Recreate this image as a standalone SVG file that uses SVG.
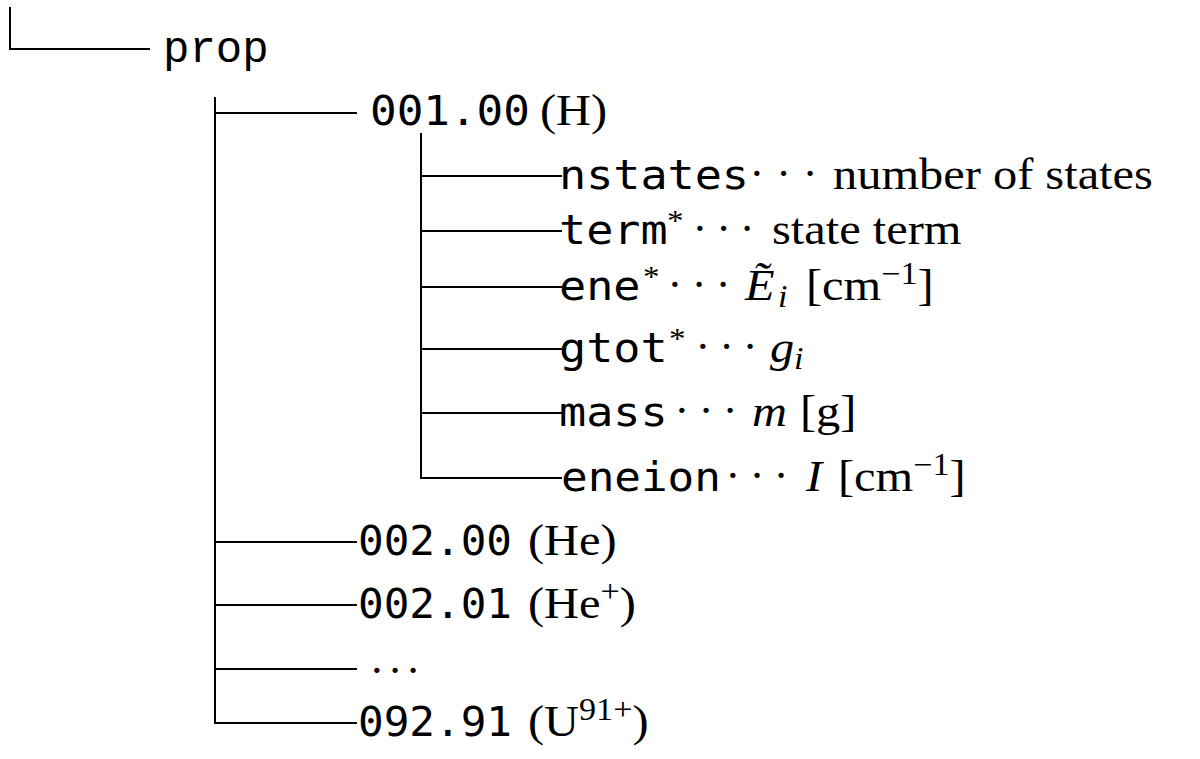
<svg xmlns="http://www.w3.org/2000/svg" width="1200" height="759" viewBox="0 0 1200 759">
<style>
.bg{fill:#fff}
.c{fill:none;stroke:#000;stroke-width:2}
.tt{font-family:"DejaVu Sans Mono",monospace;font-size:41px;fill:#000}
.cm{font-family:"Liberation Mono",monospace;font-size:44px;fill:#000}
.rm{font-family:"Liberation Serif",serif;font-size:44px;fill:#000}
.it{font-family:"Liberation Serif",serif;font-size:44px;font-style:italic;fill:#000}
.sm{font-size:31px}
.ast{font-size:30px}
.dots{font-family:"Liberation Serif",serif;font-size:44px;fill:#000}
</style>
<rect class="bg" x="0" y="0" width="1200" height="759"/>
<g id="connectors">
<path class="c" d="M10,7 V49 H150"/>
<path class="c" d="M215,97 V723 H357"/>
<path class="c" d="M215,113 H357"/>
<path class="c" d="M215,542 H357"/>
<path class="c" d="M215,605 H357"/>
<path class="c" d="M215,669 H357"/>
<path class="c" d="M421,133 V478 H562"/>
<path class="c" d="M421,176 H562"/>
<path class="c" d="M421,231 H562"/>
<path class="c" d="M421,287 H562"/>
<path class="c" d="M421,349 H562"/>
<path class="c" d="M421,413 H562"/>
</g>
<g id="node-prop">
<text class="cm" x="163" y="62">prop</text>
</g>
<g id="node-001-00">
<text class="tt" transform="translate(370,125) scale(1.08,1)">001.00</text>
<text class="rm" transform="translate(540,125) scale(1.1,1)">(H)</text>
</g>
<g id="node-nstates">
<text class="tt" transform="translate(559,189) scale(1.1,1)">nstates</text>
<text class="dots" x="749.5" y="188" textLength="68" lengthAdjust="spacing">···</text>
<text class="rm" transform="translate(833,189) scale(1.1,1)">number of states</text>
</g>
<g id="node-term">
<text class="tt" transform="translate(559,244) scale(1.1,1)">term</text>
<text class="rm ast" transform="translate(667,230) scale(1.1,1)">*</text>
<text class="dots" x="692.5" y="243" textLength="62" lengthAdjust="spacing">···</text>
<text class="rm" transform="translate(772,244) scale(1.1,1)">state term</text>
</g>
<g id="node-ene">
<text class="tt" transform="translate(559,300) scale(1.1,1)">ene</text>
<text class="rm ast" transform="translate(643,286) scale(1.1,1)">*</text>
<text class="dots" x="667.5" y="299" textLength="63" lengthAdjust="spacing">···</text>
<text class="it" transform="translate(745,300) scale(1.1,1)">Ẽ</text>
<text class="it sm" transform="translate(778,307) scale(1.1,1)">i</text>
<text class="rm" transform="translate(806,300) scale(1.1,1)">[cm<tspan class="sm" dy="-16">−1</tspan><tspan dy="16">]</tspan></text>
</g>
<g id="node-gtot">
<text class="tt" transform="translate(559,362) scale(1.1,1)">gtot</text>
<text class="rm ast" transform="translate(669,348) scale(1.1,1)">*</text>
<text class="dots" x="695.5" y="361" textLength="62" lengthAdjust="spacing">···</text>
<text class="it" transform="translate(770,362) scale(1.1,1)">g</text>
<text class="it sm" transform="translate(794,369) scale(1.1,1)">i</text>
</g>
<g id="node-mass">
<text class="tt" transform="translate(559,426) scale(1.1,1)">mass</text>
<text class="dots" x="674.5" y="425" textLength="63" lengthAdjust="spacing">···</text>
<text class="it" transform="translate(752,426) scale(1.1,1)">m</text>
<text class="rm" transform="translate(800,426) scale(1.1,1)">[g]</text>
</g>
<g id="node-eneion">
<text class="tt" transform="translate(561,491) scale(1.08,1)">eneion</text>
<text class="dots" x="725.5" y="490" textLength="63" lengthAdjust="spacing">···</text>
<text class="it" transform="translate(806,491) scale(1.1,1)">I</text>
<text class="rm" transform="translate(838,491) scale(1.1,1)">[cm<tspan class="sm" dy="-16">−1</tspan><tspan dy="16">]</tspan></text>
</g>
<g id="node-002-00">
<text class="tt" transform="translate(358,555) scale(1.04,1)">002.00</text>
<text class="rm" transform="translate(528,555) scale(1.1,1)">(He)</text>
</g>
<g id="node-002-01">
<text class="tt" transform="translate(358,618) scale(1.04,1)">002.01</text>
<text class="rm" transform="translate(528,618) scale(1.1,1)">(He<tspan class="sm" dy="-16">+</tspan><tspan dy="16">)</tspan></text>
</g>
<g id="node-ellipsis">
<text class="dots" x="369.5" y="685" textLength="51" lengthAdjust="spacing">···</text>
</g>
<g id="node-092-91">
<text class="tt" transform="translate(358,736) scale(1.04,1)">092.91</text>
<text class="rm" transform="translate(528,736) scale(1.1,1)">(U<tspan class="sm" dy="-16">91+</tspan><tspan dy="16">)</tspan></text>
</g>
</svg>
